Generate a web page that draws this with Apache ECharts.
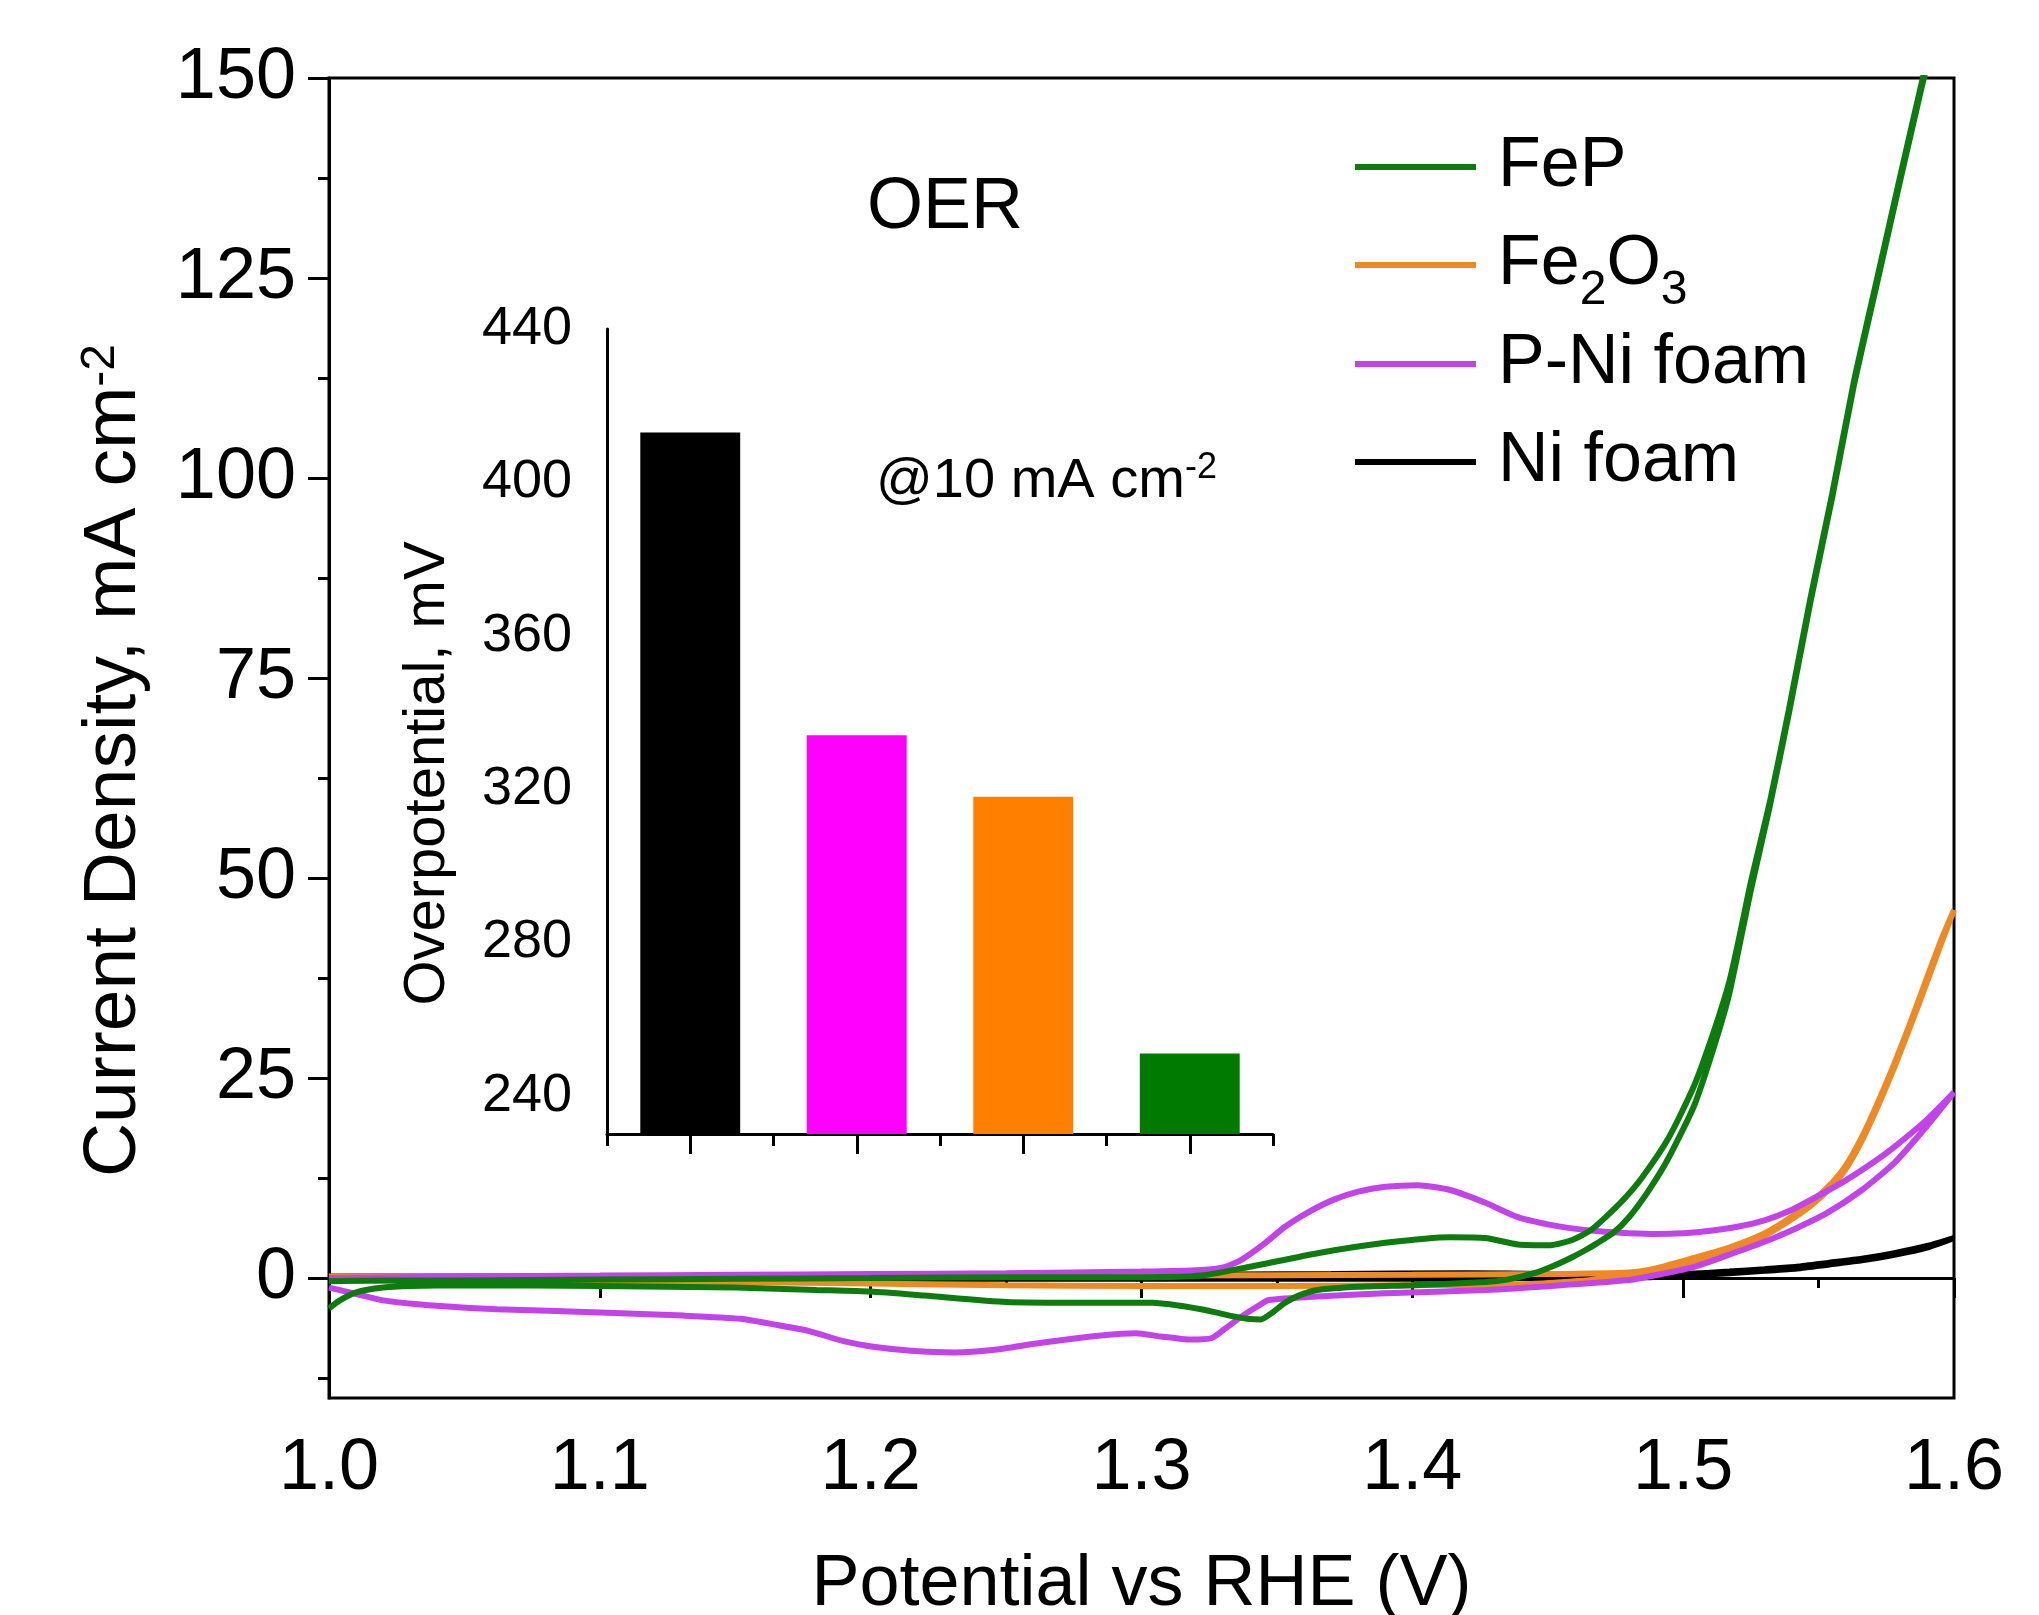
<!DOCTYPE html>
<html>
<head>
<meta charset="utf-8">
<title>OER</title>
<script src="https://cdn.jsdelivr.net/npm/echarts@6/dist/echarts.min.js"></script>
<style>
  html, body { margin: 0; padding: 0; background: #fff; }
  #main { width: 2039px; height: 1615px; }
</style>
</head>
<body>
<div id="main"></div>
<script>
// font and colours
var FONT = 'Liberation Sans, Arial, Helvetica, sans-serif';

// FeP (forward scan then reverse scan)
var fepFwdV = [1.000, 1.020, 1.050, 1.100, 1.150, 1.200, 1.250, 1.300, 1.322, 1.340, 1.365, 1.390, 1.414, 1.427, 1.439, 1.451, 1.459, 1.466, 1.472, 1.478, 1.4847, 1.4946, 1.504, 1.511, 1.517, 1.5216, 1.525, 1.532, 1.539, 1.547, 1.555, 1.563, 1.572, 1.580, 1.5885, 1.600];
var fepFwdJ = [-0.4, -0.3, -0.3, -0.2, -0.1, 0.0, 0.1, 0.1, 0.3, 1.4, 3.1, 4.4, 5.1, 5.0, 4.2, 4.1, 4.75, 6.0, 7.8, 9.8, 12.5, 17.5, 24.0, 30.5, 37.0, 44.0, 49.5, 59.5, 71.0, 85.0, 98.0, 112.0, 125.5, 137.5, 150.0, 166.0];
var fepRevV = [1.5885, 1.580, 1.572, 1.563, 1.555, 1.547, 1.539, 1.532, 1.525, 1.517, 1.511, 1.504, 1.4946, 1.487, 1.480, 1.474, 1.468, 1.464, 1.459, 1.452, 1.445, 1.435, 1.427, 1.400, 1.380, 1.365, 1.358, 1.353, 1.348, 1.344, 1.339, 1.334, 1.322, 1.304, 1.280, 1.250, 1.220, 1.200, 1.180, 1.150, 1.100, 1.050, 1.030, 1.020, 1.010, 1.004, 1.000];
var fepRevJ = [149.5, 137.0, 125.0, 111.5, 97.5, 84.5, 70.5, 59.0, 48.5, 35.5, 28.5, 21.5, 15.0, 10.8, 7.6, 5.6, 4.3, 3.5, 2.6, 1.5, 0.6, -0.2, -0.5, -0.9, -1.1, -1.5, -2.2, -3.1, -4.4, -5.2, -5.1, -4.8, -3.9, -3.1, -3.1, -3.0, -2.2, -1.7, -1.5, -1.2, -1.0, -0.9, -1.0, -1.2, -1.8, -2.8, -3.8];

// Fe2O3
var feoFwdV = [1.000, 1.100, 1.200, 1.300, 1.400, 1.450, 1.480, 1.490, 1.504, 1.517, 1.529, 1.538, 1.547, 1.555, 1.560, 1.566, 1.572, 1.578, 1.584, 1.590, 1.595, 1.600];
var feoFwdJ = [0.2, 0.2, 0.2, 0.3, 0.4, 0.5, 0.7, 1.2, 2.5, 3.8, 5.4, 7.2, 9.4, 11.9, 14.0, 17.6, 22.0, 26.8, 32.0, 37.5, 42.0, 46.0];
var feoRevV = [1.595, 1.590, 1.584, 1.578, 1.572, 1.566, 1.560, 1.555, 1.547, 1.538, 1.529, 1.517, 1.504, 1.490, 1.480, 1.460, 1.440, 1.400, 1.350, 1.300, 1.250, 1.200, 1.150, 1.100, 1.050, 1.000];
var feoRevJ = [41.6, 37.0, 31.6, 26.4, 21.6, 17.2, 13.6, 11.5, 9.0, 6.9, 5.1, 3.5, 2.1, 0.8, 0.2, -0.4, -0.8, -0.9, -1.0, -1.0, -0.9, -0.7, -0.5, -0.4, -0.3, -0.3];

// P-Ni foam
var pniFwdV = [1.000, 1.050, 1.100, 1.150, 1.200, 1.250, 1.300, 1.322, 1.331, 1.337, 1.345, 1.353, 1.362, 1.371, 1.380, 1.390, 1.402, 1.414, 1.427, 1.439, 1.450, 1.459, 1.470, 1.480, 1.490, 1.500, 1.510, 1.520, 1.530, 1.540, 1.549, 1.560, 1.570, 1.578, 1.590, 1.600];
var pniFwdJ = [0.0, 0.2, 0.3, 0.4, 0.5, 0.6, 0.8, 1.0, 1.4, 2.3, 4.2, 6.4, 8.3, 9.8, 10.8, 11.4, 11.6, 11.0, 9.4, 7.6, 6.7, 6.2, 5.8, 5.6, 5.5, 5.6, 5.9, 6.4, 7.2, 8.5, 10.1, 12.2, 14.4, 16.4, 19.8, 23.2];
var pniRevV = [1.590, 1.578, 1.566, 1.553, 1.541, 1.529, 1.516, 1.504, 1.492, 1.480, 1.455, 1.427, 1.390, 1.365, 1.347, 1.343, 1.337, 1.331, 1.326, 1.318, 1.307, 1.298, 1.285, 1.263, 1.245, 1.231, 1.215, 1.201, 1.190, 1.177, 1.166, 1.152, 1.131, 1.100, 1.062, 1.037, 1.020, 1.010, 1.000];
var pniRevJ = [19.0, 14.4, 11.0, 8.1, 6.1, 4.4, 2.8, 1.4, 0.5, -0.25, -0.9, -1.5, -1.9, -2.3, -2.75, -3.5, -4.8, -6.3, -7.5, -7.7, -7.3, -6.9, -7.2, -8.1, -9.0, -9.3, -9.1, -8.6, -7.9, -6.6, -5.9, -5.1, -4.7, -4.3, -3.9, -3.4, -2.8, -2.0, -1.2];

// Ni foam
var niFwdV = [1.000, 1.100, 1.200, 1.300, 1.370, 1.420, 1.450, 1.486, 1.500, 1.517, 1.530, 1.542, 1.554, 1.566, 1.578, 1.590, 1.600];
var niFwdJ = [0.2, 0.2, 0.3, 0.4, 0.5, 0.6, 0.5, 0.4, 0.5, 0.8, 1.1, 1.4, 1.9, 2.4, 3.1, 4.0, 5.0];
var niRevV = [1.590, 1.578, 1.566, 1.554, 1.542, 1.530, 1.517, 1.500, 1.486, 1.450, 1.400, 1.300, 1.200, 1.100, 1.000];
var niRevJ = [3.8, 2.9, 2.2, 1.7, 1.2, 0.9, 0.6, 0.3, 0.1, 0.0, -0.1, -0.1, -0.1, 0.0, 0.0];

// main axis ticks
var yMajorTicks = [0, 25, 50, 75, 100, 125, 150];
var yMinorTicks = [-12.5, 12.5, 37.5, 62.5, 87.5, 112.5, 137.5];

// inset: overpotential @10 mA cm-2
var barNames = ['Ni foam', 'P-Ni foam', 'Fe2O3', 'FeP'];
var barValues = [413, 334, 318, 251];
var barColors = ['#000000', '#FF00FF', '#FF8000', '#007A00'];
var insetMajorTicks = [240, 280, 320, 360, 400, 440];
var insetMinorTicks = [260, 300, 340, 380, 420];

function pairs(v, j) {
    var out = [];
    for (var i = 0; i < v.length; i++) {
        out.push([v[i], j[i]]);
    }
    return out;
}

var chart = echarts.init(document.getElementById('main'));

var axisBlack = {color: '#000', width: 3};

function lineSeries(name, color, fv, fj, rv, rj) {
    return {
        name: name,
        type: 'line',
        xAxisIndex: 0,
        yAxisIndex: 0,
        data: pairs(fv, fj).concat(pairs(rv, rj)),
        showSymbol: false,
        symbol: 'none',
        smooth: 0.2,
        clip: true,
        lineStyle: {color: color, width: 6},
        itemStyle: {color: color},
        emphasis: {disabled: true}
    };
}

var option = {
    backgroundColor: '#fff',
    animation: false,
    textStyle: {fontFamily: FONT, color: '#000'},
    grid: [
        // 主图
        {left: 329, top: 78, width: 1625, height: 1320, show: true, borderColor: '#000', borderWidth: 3, outerBoundsMode: 'none'},
        // 插图
        {left: 607, top: 329, width: 666, height: 805, outerBoundsMode: 'none'}
    ],
    legend: {
        data: ['FeP', 'Fe2O3', 'P-Ni foam', 'Ni foam'],
        orient: 'vertical',
        left: 1350,
        top: 127,
        icon: 'rect',
        itemWidth: 121,
        itemHeight: 6,
        itemGap: 14,
        selectedMode: false,
        formatter: function (name) {
            if (name === 'Fe2O3') {
                return '{t|Fe}{s|2}{t|O}{s|3}';
            }
            return '{t|' + name + '}';
        },
        textStyle: {
            color: '#000',
            fontFamily: FONT,
            fontSize: 70,
            padding: [0, 0, 0, 17],
            rich: {
                t: {fontSize: 70, lineHeight: 70, verticalAlign: 'top', padding: [0, 0, 14, 0], fontFamily: FONT, color: '#000'},
                s: {fontSize: 48, lineHeight: 14, verticalAlign: 'top', padding: [37, 0, 0, 0], fontFamily: FONT, color: '#000'}
            }
        }
    },
    xAxis: [
        {
            gridIndex: 0,
            type: 'value',
            min: 1.0,
            max: 1.6,
            interval: 0.1,
            name: 'Potential vs RHE (V)',
            nameLocation: 'middle',
            nameGap: 151,
            nameTextStyle: {fontSize: 72, color: '#000', fontFamily: FONT},
            axisLine: {lineStyle: axisBlack},
            axisTick: {length: 20, lineStyle: axisBlack},
            minorTick: {show: true, splitNumber: 2, length: 10, lineStyle: axisBlack},
            axisLabel: {
                fontSize: 72, margin: 35, color: '#000', fontFamily: FONT,
                formatter: function (v) { return v.toFixed(1); }
            },
            splitLine: {show: false},
            minorSplitLine: {show: false}
        },
        {
            gridIndex: 1,
            type: 'category',
            data: barNames,
            position: 'bottom',
            axisLine: {show: true, lineStyle: axisBlack},
            axisTick: {show: true, interval: 0, length: 12, lineStyle: axisBlack},
            axisLabel: {show: false},
            splitLine: {show: false}
        },
        {
            gridIndex: 1,
            type: 'category',
            data: barNames,
            position: 'bottom',
            axisLine: {show: false},
            axisTick: {show: true, interval: 0, length: 20, alignWithLabel: true, lineStyle: axisBlack},
            axisLabel: {show: false},
            splitLine: {show: false}
        }
    ],
    yAxis: [
        {
            gridIndex: 0,
            type: 'value',
            min: -15,
            max: 150,
            position: 'left',
            name: '{t|Current Density, mA cm}{p|-2}',
            nameLocation: 'middle',
            nameGap: 172,
            nameTextStyle: {
                fontFamily: FONT,
                color: '#000',
                padding: [0, 45, 0, 0],
                rich: {
                    t: {fontSize: 75, lineHeight: 80, verticalAlign: 'top', fontFamily: FONT, color: '#000'},
                    p: {fontSize: 48, lineHeight: 37, verticalAlign: 'top', fontFamily: FONT, color: '#000'}
                }
            },
            axisLine: {show: true, lineStyle: axisBlack},
            axisTick: {length: 21, lineStyle: axisBlack, customValues: yMajorTicks},
            axisLabel: {fontSize: 72, margin: 33, color: '#000', fontFamily: FONT, customValues: yMajorTicks},
            splitLine: {show: false}
        },
        {
            gridIndex: 0,
            type: 'value',
            min: -15,
            max: 150,
            position: 'left',
            axisLine: {show: false},
            axisTick: {length: 11, lineStyle: axisBlack, customValues: yMinorTicks},
            axisLabel: {show: false},
            splitLine: {show: false}
        },
        {
            gridIndex: 1,
            type: 'value',
            min: 230,
            max: 440,
            position: 'left',
            name: 'Overpotential, mV',
            nameLocation: 'middle',
            nameGap: 149,
            nameTextStyle: {fontSize: 58, lineHeight: 60, color: '#000', fontFamily: FONT, padding: [0, 84, 0, 0]},
            axisLine: {show: true, lineStyle: axisBlack},
            axisTick: {length: 17, lineStyle: axisBlack, customValues: insetMajorTicks},
            axisLabel: {fontSize: 54, margin: 35, color: '#000', fontFamily: FONT, customValues: insetMajorTicks},
            splitLine: {show: false}
        },
        {
            gridIndex: 1,
            type: 'value',
            min: 230,
            max: 440,
            position: 'left',
            axisLine: {show: false},
            axisTick: {length: 9, lineStyle: axisBlack, customValues: insetMinorTicks},
            axisLabel: {show: false},
            splitLine: {show: false}
        }
    ],
    graphic: [
        {
            type: 'text',
            x: 945,
            y: 208,
            style: {text: 'OER', fontSize: 72, fontFamily: FONT, fill: '#000', align: 'center', verticalAlign: 'middle'}
        },
        {
            type: 'text',
            x: 876,
            y: 450,
            style: {
                text: '{t|@10 mA cm}{p|-2}',
                fontFamily: FONT,
                fill: '#000',
                align: 'left',
                verticalAlign: 'top',
                rich: {
                    t: {fontSize: 56, lineHeight: 60, padding: [30, 0, 0, 0], verticalAlign: 'bottom', fontFamily: FONT, fill: '#000'},
                    p: {fontSize: 36, lineHeight: 37, verticalAlign: 'top', fontFamily: FONT, fill: '#000'}
                }
            }
        }
    ],
    series: [
        lineSeries('Ni foam', '#000000', niFwdV, niFwdJ, niRevV, niRevJ),
        lineSeries('Fe2O3', '#EE8A26', feoFwdV, feoFwdJ, feoRevV, feoRevJ),
        lineSeries('P-Ni foam', '#C243EA', pniFwdV, pniFwdJ, pniRevV, pniRevJ),
        lineSeries('FeP', '#0E7B0E', fepFwdV, fepFwdJ, fepRevV, fepRevJ),
        {
            name: 'Overpotential',
            type: 'bar',
            xAxisIndex: 1,
            yAxisIndex: 2,
            barWidth: '60%',
            clip: true,
            data: barValues.map(function (v, i) {
                return {value: v, itemStyle: {color: barColors[i]}};
            }),
            emphasis: {disabled: true}
        }
    ]
};

chart.setOption(option);
</script>
</body>
</html>
